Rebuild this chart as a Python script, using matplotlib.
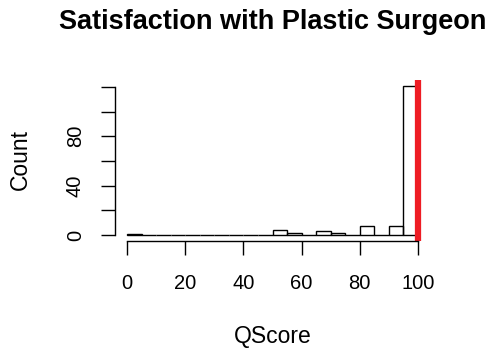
import numpy as np
import matplotlib.pyplot as plt

# histogram of QScore, bins of width 5
edges = list(range(0, 105, 5))
counts = [1, 0, 0, 0, 0, 0, 0, 0, 0, 0,
          4, 2, 0, 3, 2, 0, 7, 0, 7, 121]
xticks = [0, 20, 40, 60, 80, 100]
yticks = [0, 20, 40, 60, 80, 100, 120]
ylabels = ['0', '', '40', '', '80', '', '']
cutoff = 100

plt.rcParams['font.family'] = ['Liberation Sans', 'DejaVu Sans']

fig = plt.figure(figsize=(4.87, 3.5), dpi=100)
W, H = 487, 350
ax = fig.add_axes([115.4 / W, 1 - 241 / H, (429.6 - 115.4) / W, (241 - 79.6) / H])

ax.bar(edges[:-1], counts, width=5, align='edge', fill=False,
       edgecolor='black', linewidth=1.0)
ax.axvline(cutoff, color='#ee1c24', linewidth=4.5)

ax.set_xlim(-4, 104)
ax.set_ylim(-4.84, 125.84)

for s in ['top', 'right']:
    ax.spines[s].set_visible(False)
ax.spines['bottom'].set_bounds(0, 100)
ax.spines['left'].set_bounds(0, 120)
ax.spines['bottom'].set_linewidth(1.0)
ax.spines['left'].set_linewidth(1.0)

ax.set_xticks(xticks)
ax.set_xticklabels([str(t) for t in xticks], fontsize=14.5)
ax.set_yticks(yticks)
ax.set_yticklabels(ylabels, fontsize=14.5, rotation=90, va='center')
ax.tick_params(axis='both', length=10, width=1.0)
ax.tick_params(axis='x', pad=14)
ax.tick_params(axis='y', pad=12)

fig.text(272.5 / W, 1 - 22 / H, 'Satisfaction with Plastic Surgeon',
         fontsize=19.5, fontweight='bold', ha='center', va='center')
fig.text(272.5 / W, 1 - 337 / H, 'QScore', fontsize=16.5, ha='center', va='center')
fig.text(20 / W, 1 - 160 / H, 'Count', fontsize=16.5, rotation=90,
         ha='center', va='center')

fig.savefig('out.png', dpi=100)
